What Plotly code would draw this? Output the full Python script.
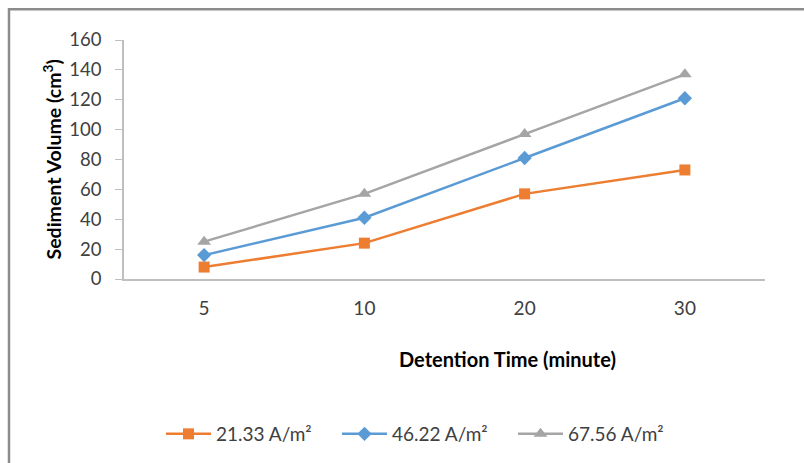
import plotly.graph_objects as go

categories = ["5", "10", "20", "30"]
s1_name = "21.33 A/m²"
s1_values = [8, 24, 57, 73]
s2_name = "46.22 A/m²"
s2_values = [16, 41, 81, 121]
s3_name = "67.56 A/m²"
s3_values = [25, 57, 97, 137]
y_ticks = [0, 20, 40, 60, 80, 100, 120, 140, 160]
x_title = "<b>Detention Time (minute)</b>"
y_title = "<b>Sediment Volume (cm<sup>3</sup>)</b>"

FONT = "Lato"
fig = go.Figure()
specs = [
    (s1_name, s1_values, "#ED7D31", "square", 11),
    (s2_name, s2_values, "#5B9BD5", "diamond", 11),
    (s3_name, s3_values, "#A5A5A5", "triangle-up", 12),
]
for name, vals, color, sym, size in specs:
    fig.add_trace(go.Scatter(
        x=categories, y=vals, name=name, mode="lines+markers",
        line=dict(color=color, width=2.5),
        marker=dict(symbol=sym, size=size, color=color),
    ))

L, R, T, B = 124, 39, 40, 183
W, H = 804, 463
pw, ph = W - L - R, H - T - B


def px(xp):
    return (xp - L) / pw


def py(yp):
    return (ph - (yp - T)) / ph


fig.update_layout(
    width=W, height=H,
    margin=dict(l=L, r=R, t=T, b=B),
    paper_bgcolor="white", plot_bgcolor="white",
    font=dict(family=FONT, size=19, color="#404040"),
    showlegend=True,
    legend=dict(
        orientation="h", x=px(161), xanchor="left",
        y=py(434), yanchor="middle",
        font=dict(size=19, color="#404040"),
        entrywidth=116, entrywidthmode="pixels",
        itemwidth=45, bgcolor="rgba(0,0,0,0)",
    ),
    xaxis=dict(
        type="category", range=[-0.5, 3.5],
        showline=True, linecolor="#BFBFBF", linewidth=1.5,
        showgrid=False, zeroline=False,
        ticks="outside", ticklen=11, tickcolor="rgba(0,0,0,0)",
        tickfont=dict(size=19, color="#404040"),
    ),
    yaxis=dict(
        range=[0, 160], tickvals=y_ticks,
        showline=True, linecolor="#BFBFBF", linewidth=1.5,
        showgrid=False, zeroline=False,
        ticks="outside", ticklen=7, tickcolor="#BFBFBF",
        ticklabelstandoff=10,
        tickfont=dict(size=18.5, color="#404040"),
    ),
    annotations=[
        dict(text=x_title, xref="paper", yref="paper", x=px(507), y=py(360),
             xanchor="center", yanchor="middle", showarrow=False,
             font=dict(size=20, color="#000000")),
        dict(text=y_title, xref="paper", yref="paper", x=px(52), y=py(160),
             xanchor="center", yanchor="middle", showarrow=False, textangle=-90,
             font=dict(size=19.5, color="#000000")),
    ],
    shapes=[dict(
        type="rect", xref="paper", yref="paper",
        x0=px(9), x1=px(W + 20),
        y0=py(H + 20), y1=py(9),
        line=dict(color="#8C8C8C", width=2.5), fillcolor="rgba(0,0,0,0)",
        layer="below",
    )],
)

fig.write_html("out.html", config={"displayModeBar": False},
               post_script="document.body.style.margin='0';document.body.style.overflow='hidden';")
